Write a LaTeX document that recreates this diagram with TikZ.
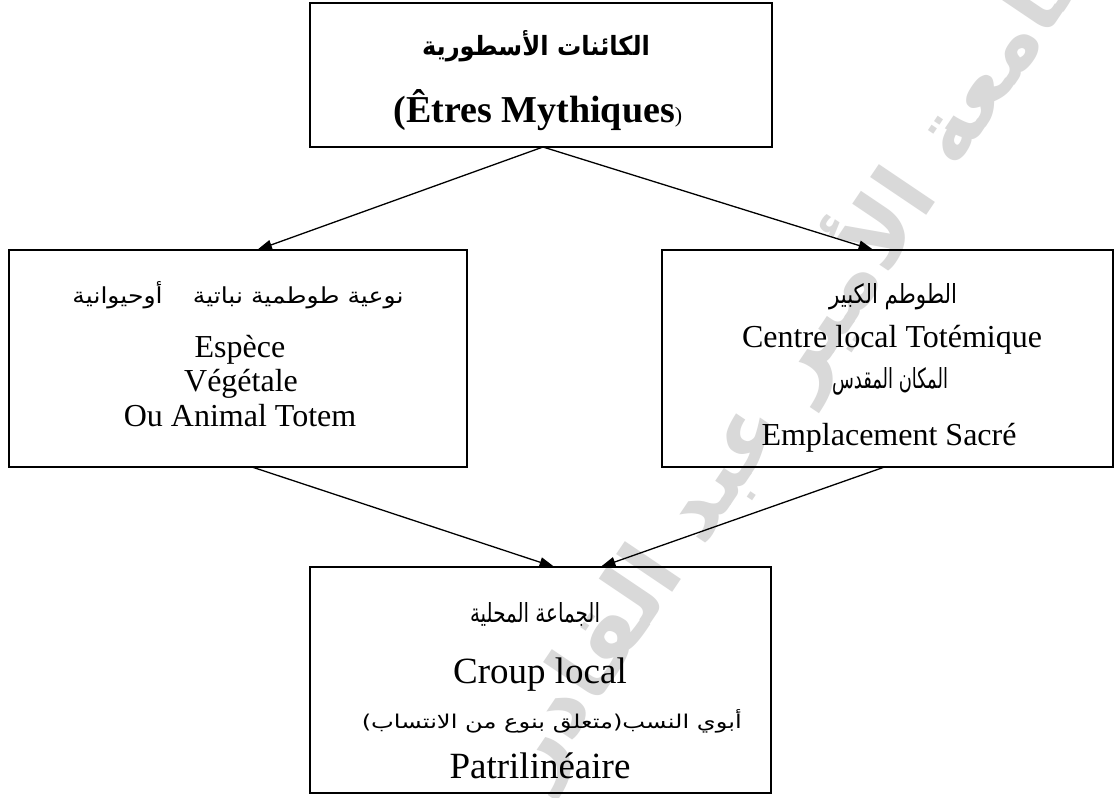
\documentclass[tikz,border=0pt]{standalone}
\usepackage{fontspec}
\usepackage{graphicx}
\setmainfont{Liberation Serif}
\newfontfamily\arabicfont[Script=Arabic]{DejaVu Sans}
\TeXXeTstate=1
\usetikzlibrary{arrows.meta}
\newcommand{\ARw}[3]{\resizebox{#1}{#2}{\arabicfont\fontsize{30}{36}\selectfont #3}}
\newcommand{\ARbw}[3]{\resizebox{#1}{#2}{\arabicfont\bfseries\fontsize{30}{36}\selectfont #3}}
\tikzset{
 box/.style={draw=black, line width=1.8pt, inner sep=0pt, outer sep=0pt},
 lat/.style={inner sep=0pt, anchor=base, font=\fontsize{32}{38}\selectfont},
 latbig/.style={inner sep=0pt, anchor=base, font=\fontsize{37}{44}\selectfont},
 ar/.style={inner sep=0pt, anchor=base},
 arr/.style={-{Triangle[length=15pt,width=10pt]}, line width=1.3pt},
 wm/.style={inner sep=0pt, text=black!15},
}
\begin{document}
\begin{tikzpicture}[x=1pt,y=-1pt]
\useasboundingbox (0,0) rectangle (1117,798);
\fill[white] (0,0) rectangle (1117,798);
\begin{scope}
\clip (0,0) rectangle (1117,798);
\node[wm, rotate=56] (wmark) at (795,355) {\ARbw{1000pt}{!}{\beginR جامعة الأمير عبد القادر\endR}};
\end{scope}

% boxes
\node[box, minimum width=462pt, minimum height=144pt] (top) at (541,75) {};
\node[box, minimum width=458pt, minimum height=217pt] (lbox) at (238,358.5) {};
\node[box, minimum width=451pt, minimum height=217pt] (rbox) at (887.5,358.5) {};
\node[box, minimum width=461pt, minimum height=226pt] (bbox) at (540.5,680) {};

% top texts
\node[ar] (t1) at (536,55) {\ARbw{228pt}{25pt}{\beginR الكائنات الأسطورية\endR}};
\node[latbig, font=\fontsize{38}{44}\selectfont\bfseries] (t2) at (538,122) {(Êtres Mythiques{\mdseries\fontsize{22}{26}\selectfont)}};

% left texts
\node[ar] (l1) at (238,303) {\ARw{331pt}{22pt}{\beginR نوعية طوطمية نباتية\hspace{1.2em}أوحيوانية\endR}};
\node[lat] (l2) at (240,357) {Espèce};
\node[lat] (l3) at (241,391) {Végétale};
\node[lat] (l4) at (240,426) {Ou Animal Totem};

% right texts
\node[ar] (r1) at (893,303) {\ARw{128pt}{20pt}{\beginR الطوطم الكبير\endR}};
\node[lat] (r2) at (892,347) {Centre local Totémique};
\node[ar] (r3) at (890,388) {\ARw{116pt}{21pt}{\beginR المكان المقدس\endR}};
\node[lat] (r4) at (889,445) {Emplacement Sacré};

% bottom texts
\node[ar] (b1) at (535,622) {\ARw{130pt}{20pt}{\beginR الجماعة المحلية\endR}};
\node[latbig] (b2) at (540,683) {Croup local};
\node[ar, anchor=base east] (b3) at (742,728) {\ARw{380pt}{19pt}{\beginR أبوي النسب(متعلق بنوع من الانتساب)\endR}};
\node[latbig] (b4) at (540,778) {Patrilinéaire};

% connectors
\draw[arr] ([xshift=2pt]top.south) -- ([xshift=19pt]lbox.north);
\draw[arr] ([xshift=2pt]top.south) -- ([xshift=-14pt]rbox.north);
\draw[arr] ([xshift=14pt]lbox.south) -- ([xshift=14pt]bbox.north);
\draw[arr] ([xshift=-3pt]rbox.south) -- ([xshift=60pt]bbox.north);
\end{tikzpicture}
\end{document}
